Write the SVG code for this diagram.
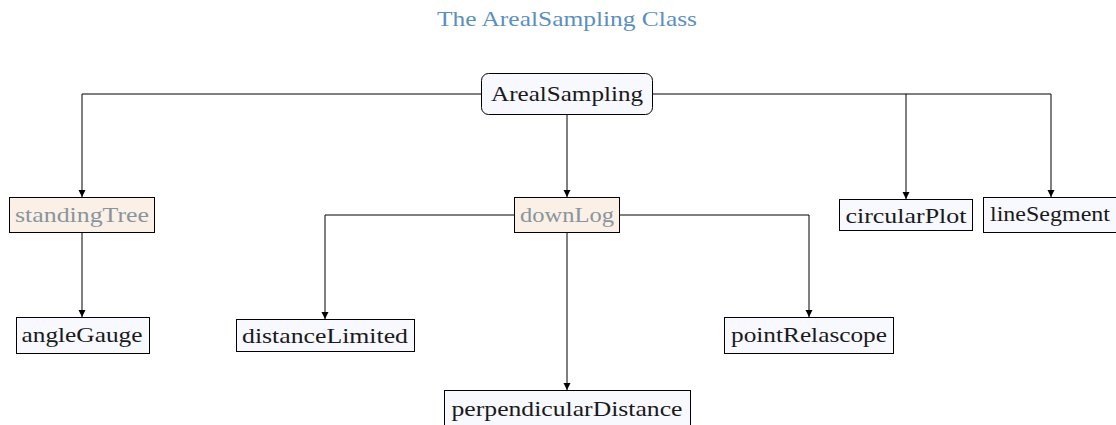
<svg xmlns="http://www.w3.org/2000/svg" width="1116" height="425" viewBox="0 0 1116 425">
<defs>
<marker id="arr" viewBox="0 0 10 10" refX="10" refY="5" markerWidth="7" markerHeight="10" markerUnits="userSpaceOnUse" orient="auto">
<path d="M0,0 L10,5 L0,10 z" fill="#000"/>
</marker>
<style>
.box{fill:#f8f8ff;stroke:#000;stroke-width:1}
.par{fill:#faf0e6;stroke:#000;stroke-width:1}
text{font-family:'Liberation Serif','DejaVu Serif',serif;font-size:22px;text-anchor:middle;fill:#1a1a1a}
.gray{fill:#8a949e}
.title{fill:#5b8fc0;font-size:21px}
.edge{fill:none;stroke:#000;stroke-width:1;marker-end:url(#arr)}
</style>
</defs>
<rect width="1116" height="425" fill="#fff"/>
<text class="title" x="567" y="26" textLength="260" lengthAdjust="spacingAndGlyphs">The ArealSampling Class</text>
<g id="connectors">
<path class="edge" d="M481,94 H82 V197"/>
<path class="edge" d="M567,114 V197"/>
<path class="edge" d="M653,94 H906 V199"/>
<path class="edge" d="M906,94 H1051 V197"/>
<path class="edge" d="M82,233 V317"/>
<path class="edge" d="M514,215 H325 V319"/>
<path class="edge" d="M567,233 V390"/>
<path class="edge" d="M620,215 H809 V317"/>
</g>
<g id="ArealSampling"><rect class="box" x="481.5" y="73.5" width="171" height="41" rx="7"/><text x="567" y="101" textLength="152" lengthAdjust="spacingAndGlyphs">ArealSampling</text></g>
<g id="standingTree"><rect class="par" x="9.5" y="197.5" width="145" height="35"/><text class="gray" x="82" y="222" textLength="134" lengthAdjust="spacingAndGlyphs">standingTree</text></g>
<g id="downLog"><rect class="par" x="514.5" y="197.5" width="105" height="35"/><text class="gray" x="567" y="222" textLength="94" lengthAdjust="spacingAndGlyphs">downLog</text></g>
<g id="circularPlot"><rect class="box" x="839.5" y="199.5" width="133" height="31"/><text x="906" y="223" textLength="121" lengthAdjust="spacingAndGlyphs">circularPlot</text></g>
<g id="lineSegment"><rect class="box" x="983.5" y="197.5" width="133" height="35"/><text x="1050" y="221" textLength="120" lengthAdjust="spacingAndGlyphs">lineSegment</text></g>
<g id="angleGauge"><rect class="box" x="16.5" y="317.5" width="133" height="36"/><text x="82" y="342" textLength="121" lengthAdjust="spacingAndGlyphs">angleGauge</text></g>
<g id="distanceLimited"><rect class="box" x="236.5" y="319.5" width="178" height="32"/><text x="325" y="343" textLength="166" lengthAdjust="spacingAndGlyphs">distanceLimited</text></g>
<g id="pointRelascope"><rect class="box" x="724.5" y="317.5" width="169" height="36"/><text x="809" y="342" textLength="156" lengthAdjust="spacingAndGlyphs">pointRelascope</text></g>
<g id="perpendicularDistance"><rect class="box" x="444.5" y="390.5" width="246" height="36"/><text x="567" y="416" textLength="231" lengthAdjust="spacingAndGlyphs">perpendicularDistance</text></g>
</svg>
